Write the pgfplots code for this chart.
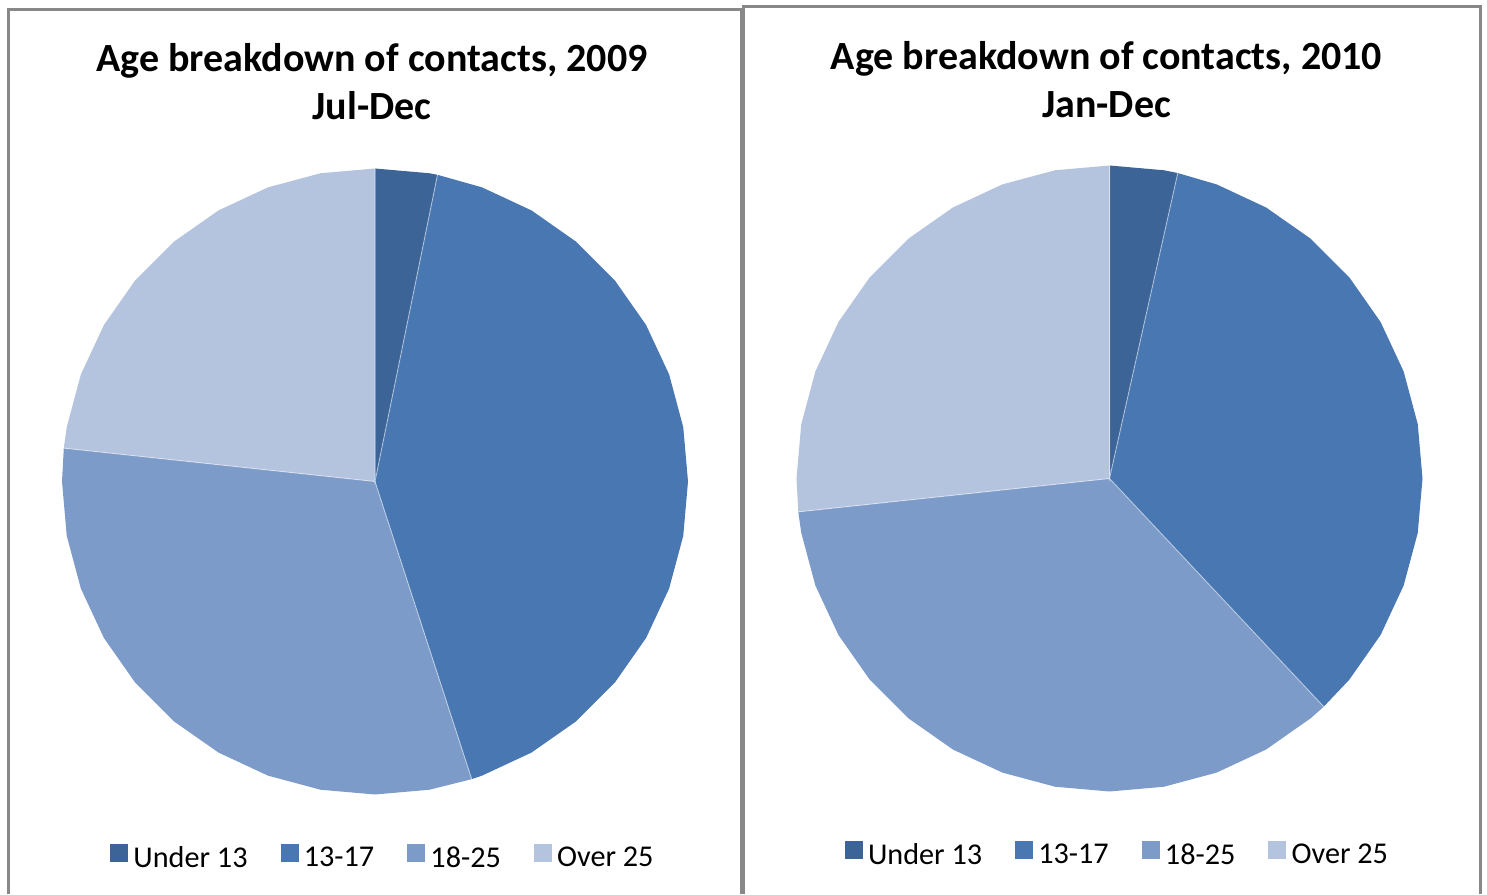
\documentclass[border=0pt]{standalone}
\usepackage{fontspec}
\setmainfont{Carlito}
\usepackage{pgfplots}
\pgfplotsset{compat=1.18}

\definecolor{cU}{HTML}{3C6497}
\definecolor{cA}{HTML}{4877B1}
\definecolor{cB}{HTML}{7C9BC9}
\definecolor{cC}{HTML}{B4C3DE}
\definecolor{frame}{HTML}{888888}

\pgfplotsset{
  pie/.style={
    hide axis, scale only axis, width=313pt, height=313pt,
    xmin=-1, xmax=1, ymin=-1, ymax=1, clip=false,
    data cs=polar, anchor=center,
    legend columns=4,
    legend image code/.code={\fill[##1] (0pt,-1.75pt) rectangle (9pt,7.25pt);},
    legend style={draw=none, fill=none, at={(0.511,-0.1005)}, anchor=center,
      font=\fontsize{15.1}{17}\selectfont,
      nodes={inner sep=0pt},
      /tikz/every odd column/.append style={column sep=2.6pt},
      /tikz/every even column/.append style={column sep=16.5pt}},
  },
  wedge/.style={fill=#1, draw=none},
  sep/.style={white, opacity=0.45, line width=0.5pt, forget plot},
}

\begin{document}
\begin{tikzpicture}
\useasboundingbox (0pt,0pt) rectangle (743.5pt,447pt);

% chart frames
\draw[frame, line width=1.5pt] (4.25pt,0pt) -- (4.25pt,442.25pt) -- (370.75pt,442.25pt) -- (370.75pt,0pt);
\draw[frame, line width=1.5pt] (371.5pt,0pt) -- (371.5pt,443.75pt) -- (740pt,443.75pt) -- (740pt,0pt);

% titles
\node[font=\fontsize{20}{24}\selectfont\bfseries, anchor=base] at (186pt,411pt) {Age breakdown of contacts,\ 2009};
\node[font=\fontsize{20}{24}\selectfont\bfseries, anchor=base] at (186pt,387pt) {Jul-Dec};
\node[font=\fontsize{20}{24}\selectfont\bfseries, anchor=base] at (553.25pt,412pt) {Age breakdown of contacts,\ 2010};
\node[font=\fontsize{20}{24}\selectfont\bfseries, anchor=base] at (553.25pt,388pt) {Jan-Dec};

% 2009 Jul-Dec: shares 3.2, 41.8, 31.7, 23.3 (%) -> wedges clockwise from 12 o'clock
\begin{axis}[pie, at={(187.5pt,206.25pt)}]
\addplot[wedge=cU] coordinates {(0,0) (90,1) (80,1) (78.48,1)};
\addplot[wedge=cA] coordinates {(0,0) (78.48,1) (70,1) (60,1) (50,1) (40,1) (30,1) (20,1) (10,1) (0,1)
  (-10,1) (-20,1) (-30,1) (-40,1) (-50,1) (-60,1) (-70,1) (-72,1)};
\addplot[wedge=cB] coordinates {(0,0) (-72,1) (-80,1) (-90,1) (-100,1) (-110,1) (-120,1) (-130,1)
  (-140,1) (-150,1) (-160,1) (-170,1) (-180,1) (-186.12,1)};
\addplot[wedge=cC] coordinates {(0,0) (-186.12,1) (-190,1) (-200,1) (-210,1) (-220,1) (-230,1)
  (-240,1) (-250,1) (-260,1) (-270,1)};
\addplot[sep] coordinates {(90,1) (0,0) (78.48,1)};
\addplot[sep] coordinates {(-72,1) (0,0) (-186.12,1)};
\legend{Under 13, 13-17, 18-25, Over 25}
\end{axis}

% 2010 Jan-Dec: shares 3.5, 34.5, 35.3, 26.7 (%)
\begin{axis}[pie, at={(554.75pt,207.75pt)}]
\addplot[wedge=cU] coordinates {(0,0) (90,1) (80,1) (77.4,1)};
\addplot[wedge=cA] coordinates {(0,0) (77.4,1) (70,1) (60,1) (50,1) (40,1) (30,1) (20,1) (10,1) (0,1)
  (-10,1) (-20,1) (-30,1) (-40,1) (-46.8,1)};
\addplot[wedge=cB] coordinates {(0,0) (-46.8,1) (-50,1) (-60,1) (-70,1) (-80,1) (-90,1) (-100,1)
  (-110,1) (-120,1) (-130,1) (-140,1) (-150,1) (-160,1) (-170,1) (-173.88,1)};
\addplot[wedge=cC] coordinates {(0,0) (-173.88,1) (-180,1) (-190,1) (-200,1) (-210,1) (-220,1)
  (-230,1) (-240,1) (-250,1) (-260,1) (-270,1)};
\addplot[sep] coordinates {(90,1) (0,0) (77.4,1)};
\addplot[sep] coordinates {(-46.8,1) (0,0) (-173.88,1)};
\legend{Under 13, 13-17, 18-25, Over 25}
\end{axis}
\end{tikzpicture}
\end{document}
